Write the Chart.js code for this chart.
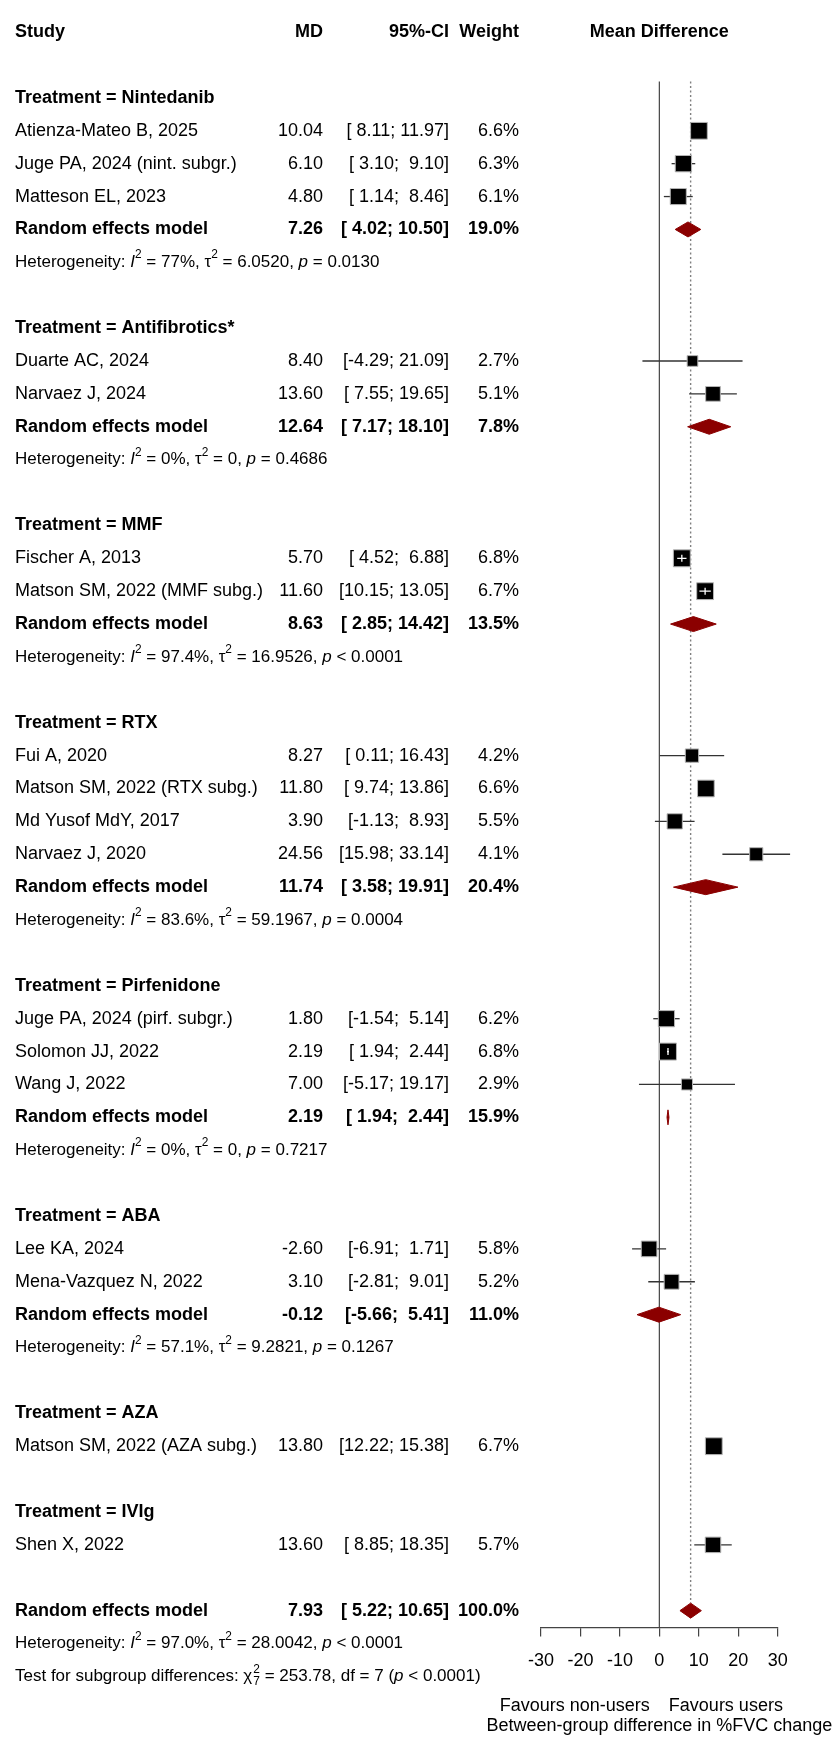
<!DOCTYPE html>
<html>
<head>
<meta charset="utf-8">
<title>Forest plot - %FVC change</title>
<script src="https://cdn.jsdelivr.net/npm/chart.js@4.4.1/dist/chart.umd.min.js"></script>
<style>
  html, body { margin: 0; padding: 0; background: #fff; }
  #forest { display: block; }
</style>
</head>
<body>
<canvas id="forest" width="837" height="1737"></canvas>
<script>
// ---- data ----
const groupNames = ['Nintedanib', 'Antifibrotics*', 'MMF', 'RTX', 'Pirfenidone', 'ABA', 'AZA', 'IVIg'];

const studyLabels = [
    'Atienza-Mateo B, 2025', 'Juge PA, 2024 (nint. subgr.)', 'Matteson EL, 2023',
    'Duarte AC, 2024', 'Narvaez J, 2024',
    'Fischer A, 2013', 'Matson SM, 2022 (MMF subg.)',
    'Fui A, 2020', 'Matson SM, 2022 (RTX subg.)', 'Md Yusof MdY, 2017', 'Narvaez J, 2020',
    'Juge PA, 2024 (pirf. subgr.)', 'Solomon JJ, 2022', 'Wang J, 2022',
    'Lee KA, 2024', 'Mena-Vazquez N, 2022',
    'Matson SM, 2022 (AZA subg.)',
    'Shen X, 2022'
];
const studyGroup  = [0, 0, 0, 1, 1, 2, 2, 3, 3, 3, 3, 4, 4, 4, 5, 5, 6, 7];
const studyMD     = [10.04, 6.10, 4.80, 8.40, 13.60, 5.70, 11.60, 8.27, 11.80, 3.90, 24.56, 1.80, 2.19, 7.00, -2.60, 3.10, 13.80, 13.60];
const studyLower  = [8.11, 3.10, 1.14, -4.29, 7.55, 4.52, 10.15, 0.11, 9.74, -1.13, 15.98, -1.54, 1.94, -5.17, -6.91, -2.81, 12.22, 8.85];
const studyUpper  = [11.97, 9.10, 8.46, 21.09, 19.65, 6.88, 13.05, 16.43, 13.86, 8.93, 33.14, 5.14, 2.44, 19.17, 1.71, 9.01, 15.38, 18.35];
const studyWeight = [6.6, 6.3, 6.1, 2.7, 5.1, 6.8, 6.7, 4.2, 6.6, 5.5, 4.1, 6.2, 6.8, 2.9, 5.8, 5.2, 6.7, 5.7];

// random effects summaries per subgroup (null = single study, no pooled row)
const groupMD     = [7.26, 12.64, 8.63, 11.74, 2.19, -0.12, null, null];
const groupLower  = [4.02, 7.17, 2.85, 3.58, 1.94, -5.66, null, null];
const groupUpper  = [10.50, 18.10, 14.42, 19.91, 2.44, 5.41, null, null];
const groupWeight = [19.0, 7.8, 13.5, 20.4, 15.9, 11.0, null, null];
const groupI2     = ['77%', '0%', '97.4%', '83.6%', '0%', '57.1%', null, null];
const groupTau2   = ['6.0520', '0', '16.9526', '59.1967', '0', '9.2821', null, null];
const groupP      = ['= 0.0130', '= 0.4686', '< 0.0001', '= 0.0004', '= 0.7217', '= 0.1267', null, null];

const overallMD = 7.93, overallLower = 5.22, overallUpper = 10.65, overallWeight = 100.0;
const overallI2 = '97.0%', overallTau2 = '28.0042', overallP = '< 0.0001';
const subgroupChi2 = '253.78', subgroupDf = '7', subgroupP = '< 0.0001';

const xTicks = [-30, -20, -10, 0, 10, 20, 30];

// ---- layout ----
const FONT = '"Liberation Sans", Arial, Helvetica, sans-serif';
const FS = 18;        // main text size
const FS_HET = 17;    // heterogeneity lines
const COL_STUDY = 15, COL_MD = 323, COL_CI = 449, COL_W = 519;
const DIAMOND_H = 7.5;

// build the row list (row index = y value on the chart)
const rows = [];
groupNames.forEach((g, gi) => {
    rows.push({ type: 'group', gi });
    studyLabels.forEach((s, si) => {
        if (studyGroup[si] === gi) rows.push({ type: 'study', si });
    });
    if (groupMD[gi] !== null) {
        rows.push({ type: 'pooled', gi });
        rows.push({ type: 'het', gi });
    }
    rows.push({ type: 'blank' });
});
rows.push({ type: 'overall' }, { type: 'overallHet' }, { type: 'test' });
const studyRow = studyLabels.map((s, si) => rows.findIndex(r => r.type === 'study' && r.si === si));
const groupRow = groupNames.map((g, gi) => rows.findIndex(r => r.type === 'pooled' && r.gi === gi));
const overallRow = rows.findIndex(r => r.type === 'overall');

// formatting like R meta
const fmt = v => v.toFixed(2);
const pad = (s, n) => ' '.repeat(Math.max(0, n - s.length)) + s;
const ciText = (lo, hi) => '[' + pad(fmt(lo), 5) + '; ' + pad(fmt(hi), 5) + ']';
const wText = w => w.toFixed(1) + '%';
const boxSide = w => 6.5 * Math.sqrt(w);

function drawRich(ctx, parts, x, y, size) {
    let cx = x;
    parts.forEach(([txt, st]) => {
        if (st === 'supsub') {
            ctx.font = (size * 0.7) + 'px ' + FONT;
            ctx.fillText(txt[0], cx + 1, y - size * 0.42);
            ctx.fillText(txt[1], cx + 1, y + size * 0.32);
            cx += 1 + Math.max(ctx.measureText(txt[0]).width, ctx.measureText(txt[1]).width);
            return;
        }
        let fs = size, dy = 0, style = '';
        if (st === 'i') style = 'italic ';
        if (st === 'sup') { fs = size * 0.7; dy = -size * 0.42; }
        ctx.font = style + fs + 'px ' + FONT;
        ctx.fillText(txt, cx, y + dy);
        cx += ctx.measureText(txt).width;
    });
}

function hetParts(i2, tau2, p) {
    return [['Heterogeneity: ', ''], ['I', 'i'], ['2', 'sup'], [' = ' + i2 + ', \u03c4', ''], ['2', 'sup'],
            [' = ' + tau2 + ', ', ''], ['p', 'i'], [' ' + p, '']];
}

// reference lines, CI whiskers (under the boxes)
const underPlugin = {
    id: 'under',
    beforeDatasetsDraw(chart) {
        const { ctx, scales: { x, y } } = chart;
        const top = y.getPixelForValue(-0.5);
        ctx.save();
        // line of no effect
        ctx.strokeStyle = '#444';
        ctx.lineWidth = 1.2;
        ctx.beginPath();
        ctx.moveTo(x.getPixelForValue(0), top);
        ctx.lineTo(x.getPixelForValue(0), chart.chartArea.bottom);
        ctx.stroke();
        // overall effect, dotted
        ctx.strokeStyle = '#808080';
        ctx.lineWidth = 1.4;
        ctx.setLineDash([2, 2.5]);
        ctx.beginPath();
        ctx.moveTo(x.getPixelForValue(overallMD), top);
        ctx.lineTo(x.getPixelForValue(overallMD), y.getPixelForValue(overallRow) - DIAMOND_H);
        ctx.stroke();
        ctx.setLineDash([]);
        // confidence intervals
        ctx.strokeStyle = '#333';
        ctx.lineWidth = 1.3;
        studyMD.forEach((m, i) => {
            const py = y.getPixelForValue(studyRow[i]);
            ctx.beginPath();
            ctx.moveTo(x.getPixelForValue(studyLower[i]), py);
            ctx.lineTo(x.getPixelForValue(studyUpper[i]), py);
            ctx.stroke();
        });
        ctx.restore();
    }
};

// diamonds, white CI inside small boxes, all text columns
const overPlugin = {
    id: 'over',
    afterDatasetsDraw(chart) {
        const { ctx, scales: { x, y } } = chart;
        ctx.save();
        // CI fully inside the box -> drawn in white
        ctx.strokeStyle = '#fff';
        ctx.lineWidth = 1.3;
        studyMD.forEach((m, i) => {
            const lo = x.getPixelForValue(studyLower[i]);
            const hi = x.getPixelForValue(studyUpper[i]);
            if (hi - lo < 0.7 * boxSide(studyWeight[i])) {
                const py = y.getPixelForValue(studyRow[i]);
                const px = x.getPixelForValue(m);
                ctx.beginPath();
                ctx.moveTo(lo, py); ctx.lineTo(hi, py);
                ctx.moveTo(px, py - 3.5); ctx.lineTo(px, py + 3.5);
                ctx.stroke();
            }
        });
        // summary diamonds
        const diamond = (m, lo, hi, row) => {
            const py = y.getPixelForValue(row);
            ctx.beginPath();
            ctx.moveTo(x.getPixelForValue(lo), py);
            ctx.lineTo(x.getPixelForValue(m), py - DIAMOND_H);
            ctx.lineTo(x.getPixelForValue(hi), py);
            ctx.lineTo(x.getPixelForValue(m), py + DIAMOND_H);
            ctx.closePath();
            ctx.fill();
            ctx.stroke();
        };
        ctx.fillStyle = '#8b0000';
        ctx.strokeStyle = '#8b0000';
        ctx.lineWidth = 1;
        groupMD.forEach((m, gi) => {
            if (m !== null) diamond(m, groupLower[gi], groupUpper[gi], groupRow[gi]);
        });
        diamond(overallMD, overallLower, overallUpper, overallRow);
        ctx.restore();
    },
    afterDraw(chart) {
        const { ctx, scales: { x, y } } = chart;
        ctx.save();
        ctx.fillStyle = '#000';
        ctx.textBaseline = 'middle';
        const bold = 'bold ' + FS + 'px ' + FONT;
        const norm = FS + 'px ' + FONT;
        const txt = (s, px, py, align, font) => {
            ctx.font = font; ctx.textAlign = align; ctx.fillText(s, px, py);
        };
        // header
        const hy = y.getPixelForValue(-2);
        txt('Study', COL_STUDY, hy, 'left', bold);
        txt('MD', COL_MD, hy, 'right', bold);
        txt('95%-CI', COL_CI, hy, 'right', bold);
        txt('Weight', COL_W, hy, 'right', bold);
        txt('Mean Difference', (x.left + x.right) / 2, hy, 'center', bold);

        const numbers = (m, lo, hi, w, py, font) => {
            txt(fmt(m), COL_MD, py, 'right', font);
            txt(ciText(lo, hi), COL_CI, py, 'right', font);
            txt(wText(w), COL_W, py, 'right', font);
        };
        rows.forEach((r, ri) => {
            const py = y.getPixelForValue(ri);
            if (r.type === 'group') {
                txt('Treatment = ' + groupNames[r.gi], COL_STUDY, py, 'left', bold);
            } else if (r.type === 'study') {
                const i = r.si;
                txt(studyLabels[i], COL_STUDY, py, 'left', norm);
                numbers(studyMD[i], studyLower[i], studyUpper[i], studyWeight[i], py, norm);
            } else if (r.type === 'pooled') {
                const g = r.gi;
                txt('Random effects model', COL_STUDY, py, 'left', bold);
                numbers(groupMD[g], groupLower[g], groupUpper[g], groupWeight[g], py, bold);
            } else if (r.type === 'het') {
                ctx.textAlign = 'left';
                drawRich(ctx, hetParts(groupI2[r.gi], groupTau2[r.gi], groupP[r.gi]), COL_STUDY, py, FS_HET);
            } else if (r.type === 'overall') {
                txt('Random effects model', COL_STUDY, py, 'left', bold);
                numbers(overallMD, overallLower, overallUpper, overallWeight, py, bold);
            } else if (r.type === 'overallHet') {
                ctx.textAlign = 'left';
                drawRich(ctx, hetParts(overallI2, overallTau2, overallP), COL_STUDY, py, FS_HET);
            } else if (r.type === 'test') {
                ctx.textAlign = 'left';
                drawRich(ctx, [['Test for subgroup differences: \u03c7', ''], [['2', subgroupDf], 'supsub'],
                    [' = ' + subgroupChi2 + ', df = ' + subgroupDf + ' (', ''], ['p', 'i'], [' ' + subgroupP + ')', '']],
                    COL_STUDY, py, FS_HET);
            }
        });
        // direction labels and axis label under the axis
        const x0 = x.getPixelForValue(0);
        const ly = x.bottom - 31;
        txt('Favours non-users', x0 - 9.5, ly, 'right', norm);
        txt('Favours users', x0 + 9.5, ly, 'left', norm);
        txt('Between-group difference in %FVC change', x0, x.bottom - 10.5, 'center', norm);
        ctx.restore();
    }
};

const ctx = document.getElementById('forest').getContext('2d');
new Chart(ctx, {
    type: 'scatter',
    data: {
        datasets: [{
            label: 'Studies',
            data: studyMD.map((m, i) => ({ x: m, y: studyRow[i] })),
            pointStyle: 'rect',
            pointRadius: studyWeight.map(w => boxSide(w) * Math.SQRT1_2),
            backgroundColor: '#000',
            borderColor: '#b4b4b4',
            borderWidth: 1,
            clip: false
        }]
    },
    options: {
        responsive: false,
        devicePixelRatio: 1,
        animation: false,
        events: [],
        layout: { padding: { left: 541, right: 59.3, top: 0, bottom: 0 } },
        scales: {
            x: {
                type: 'linear',
                min: -30,
                max: 30,
                afterBuildTicks: s => { s.ticks = xTicks.map(v => ({ value: v })); },
                afterFit: s => { s.height = 109.5; },
                ticks: { color: '#000', font: { family: FONT, size: FS }, padding: 14, maxRotation: 0, autoSkip: false },
                grid: { drawOnChartArea: false, drawTicks: true, tickLength: 9, color: '#444', lineWidth: 1.2 },
                border: { display: true, color: '#444', width: 1.2 }
            },
            y: {
                type: 'linear',
                display: false,
                reverse: true,
                min: -2.582,
                max: 46.513
            }
        },
        plugins: {
            legend: { display: false },
            tooltip: { enabled: false }
        }
    },
    plugins: [underPlugin, overPlugin]
});
</script>
</body>
</html>
